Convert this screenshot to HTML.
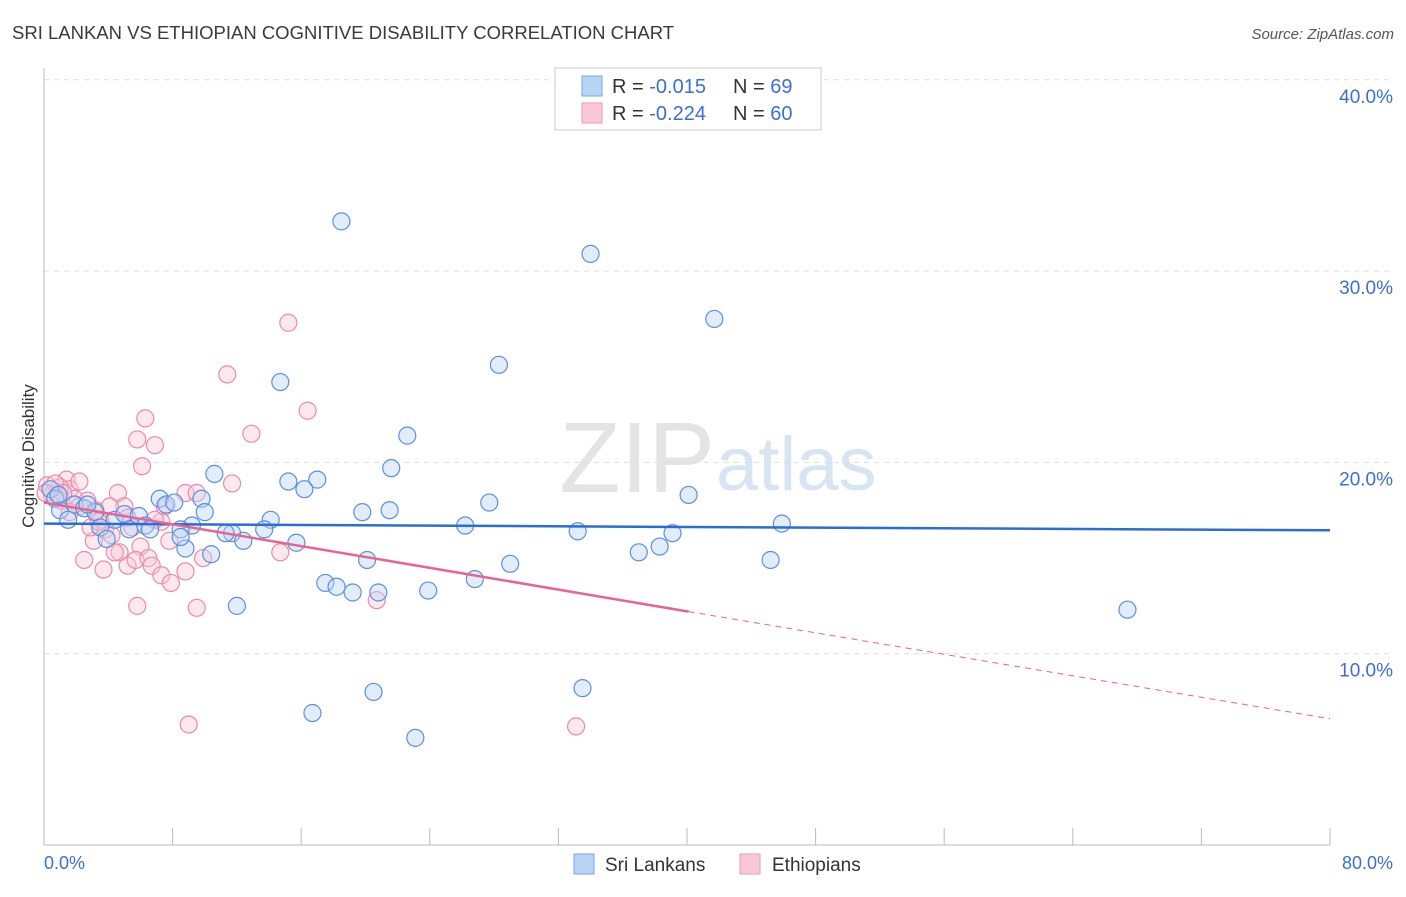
<!DOCTYPE html>
<html><head><meta charset="utf-8"><style>
body{margin:0;background:#fff;font-family:"Liberation Sans",sans-serif;}
svg text{font-family:"Liberation Sans",sans-serif;}
</style></head><body>
<svg id="chart" width="1406" height="892">
<text x="12" y="39" font-size="18.5" fill="#3a3a3a">SRI LANKAN VS ETHIOPIAN COGNITIVE DISABILITY CORRELATION CHART</text>
<text x="1394" y="39" font-size="15" fill="#555" font-style="italic" text-anchor="end">Source: ZipAtlas.com</text>
<text x="715" y="492" font-size="100" fill="#e4e4e4" font-family="Liberation Serif" text-anchor="end">ZIP</text>
<text x="716" y="490" font-size="76" fill="#d6e4f4">atlas</text>
<g id="grid"></g>
<line x1="44" y1="68" x2="44" y2="845" stroke="#bbb"/>
<line x1="44" y1="845" x2="1330" y2="845" stroke="#bbb"/>
<text x="34" y="456" font-size="17" fill="#333" text-anchor="middle" transform="rotate(-90 34 456)">Cognitive Disability</text>
<text x="44" y="869" font-size="18" fill="#3b6fd4">0.0%</text>
<text x="1393" y="869" font-size="18" fill="#3b6fd4" text-anchor="end">80.0%</text>
<g id="pts"></g>
<g id="lines"></g>
<g>
<rect x="555" y="68" width="266" height="62" fill="#fff" stroke="#ccc"/>
<rect x="582" y="76" width="20" height="20" fill="#b9d3f5" stroke="#7aa5e6"/>
<text x="612" y="93" font-size="20" fill="#333">R = <tspan fill="#3b6fd4">-0.015</tspan><tspan x="733">N = </tspan><tspan fill="#3b6fd4">69</tspan></text>
<rect x="582" y="103" width="20" height="20" fill="#fbc8d7" stroke="#ee9ab3"/>
<text x="612" y="120" font-size="20" fill="#333">R = <tspan fill="#3b6fd4">-0.224</tspan><tspan x="733">N = </tspan><tspan fill="#3b6fd4">60</tspan></text>
</g>
<g>
<rect x="574" y="854" width="20" height="20" fill="#b9d3f5" stroke="#7aa5e6"/>
<text x="605" y="871" font-size="19" fill="#333">Sri Lankans</text>
<rect x="740" y="854" width="20" height="20" fill="#fbc8d7" stroke="#ee9ab3"/>
<text x="772" y="871" font-size="19" fill="#333">Ethiopians</text>
</g>
</svg>
<script>
const yTicks=[10,20,30,40];
const yTickLabels=["10.0%","20.0%","30.0%","40.0%"];
const xTicks=[0,8,16,24,32,40,48,56,64,72,80];
const sriX=[18.5,34,41.7,28.3,14.7,22.6,21.6,10.6,17,15.2,16.2,27.7,40.1,7.2,9.8,7.6,19.8,21.5,10,14.1,26.2,45.9,33.2,39.1,9.2,11.7,11.3,13.7,12.4,15.7,38.3,37,8.8,10.4,20.1,29,45.2,17.5,18.2,26.8,19.2,20.8,23.9,12,67.4,20.5,33.5,16.7,23.1,0.4,0.7,1,1.5,1.9,2.5,3.2,3.5,3.9,4.4,5,5.3,5.9,6.3,6.6,8.1,8.5,8.5,0.9,2.7];
const sriY=[32.6,30.9,27.5,25.1,24.2,21.4,19.7,19.4,19.1,19,18.6,17.9,18.3,18.1,18.1,17.8,17.4,17.5,17.4,17,16.7,16.8,16.4,16.3,16.7,16.3,16.3,16.5,15.9,15.8,15.6,15.3,15.5,15.2,14.9,14.7,14.9,13.7,13.5,13.9,13.2,13.2,13.3,12.5,12.3,8.0,8.2,6.9,5.6,18.6,18.1,17.5,17,17.8,17.6,17.4,16.6,16,17,17.3,16.5,17.2,16.7,16.5,17.9,16.5,16.1,18.3,17.8];
const ethX=[15.2,11.4,16.4,12.9,6.3,5.8,6.9,6.1,1.4,1.6,0.2,0.5,1,1.1,1.9,2.2,2.7,3.2,3.5,3.8,4.2,4.6,5,5.2,5.5,6,4.7,5.2,5.7,6.5,6.7,7.3,7.9,8.8,8.8,9.5,7.5,7.3,11.7,9.9,2.5,3.7,5.8,9.5,9,33.1,20.7,14.7,3.1,4.1,1.6,2.9,6.9,2.2,0.7,1.2,3.4,4.4,7.8,0.1];
const ethY=[27.3,24.6,22.7,21.5,22.3,21.2,20.9,19.8,19.1,18.6,18.8,18.3,18.7,18,18.1,17.7,18,17.5,17,16.5,16.2,18.4,17.7,17.1,16.6,15.6,15.3,14.6,14.9,15,14.6,14.1,13.7,14.3,18.4,18.4,17.7,16.9,18.9,15,14.9,14.4,12.5,12.4,6.3,6.2,12.8,15.3,15.9,17.7,17.4,16.6,17,19,18.9,18.4,16.9,15.3,15.9,18.4];
const blueLine=[16.8,16.45];
const pinkLine=[17.9,12.2,6.6];
const NS="http://www.w3.org/2000/svg";
const X0=44,X1=1330,Y0=845,PPY=19.13;
const sx=v=>X0+(v/80)*(X1-X0);
const sy=v=>Y0-v*PPY;
const grid=document.getElementById('grid');
yTicks.forEach((t,i)=>{
  const l=document.createElementNS(NS,'line');
  
  
  l.setAttribute('x1',44);l.setAttribute('x2',1393);l.setAttribute('y1',sy(t));l.setAttribute('y2',sy(t));
  l.setAttribute('stroke','#ddd');l.setAttribute('stroke-dasharray','5,5');
  grid.appendChild(l);
  const tx=document.createElementNS(NS,'text');
  
  
  tx.setAttribute('x',1393);tx.setAttribute('y',sy(t)+23);tx.setAttribute('text-anchor','end');
  tx.setAttribute('font-size','19');tx.setAttribute('fill','#3b6fd4');tx.textContent=yTickLabels[i];
  grid.appendChild(tx);
});
xTicks.forEach(t=>{
  const l=document.createElementNS(NS,'line');
  
  
  l.setAttribute('x1',sx(t));l.setAttribute('x2',sx(t));l.setAttribute('y1',828);l.setAttribute('y2',845);
  l.setAttribute('stroke','#bbb');
  grid.appendChild(l);
});
const pts=document.getElementById('pts');
function dot(x,y,fill,stroke,name){
  const c=document.createElementNS(NS,'circle');
  
  
  c.setAttribute('cx',sx(x));c.setAttribute('cy',sy(y));c.setAttribute('r',8.5);
  c.setAttribute('fill',fill);c.setAttribute('fill-opacity','0.42');c.setAttribute('stroke',stroke);c.setAttribute('stroke-width','1.2');
  pts.appendChild(c);
}
ethX.forEach((x,i)=>dot(x,ethY[i],'#fbc8d7','#ec8aa8','ethiopian-point'));
sriX.forEach((x,i)=>dot(x,sriY[i],'#b9d3f5','#5b8fe0','sri-lankan-point'));
const lines=document.getElementById('lines');
function ln(x1,y1,x2,y2,col,w,dash,name){
  const l=document.createElementNS(NS,'line');
  
  
  l.setAttribute('x1',sx(x1));l.setAttribute('y1',sy(y1));l.setAttribute('x2',sx(x2));l.setAttribute('y2',sy(y2));
  l.setAttribute('stroke',col);l.setAttribute('stroke-width',w);if(dash)l.setAttribute('stroke-dasharray',dash);
  lines.appendChild(l);
}
ln(0,blueLine[0],80,blueLine[1],'#2a6dd6',2.5,null,'sri-lankan-trendline');
ln(0,pinkLine[0],40.1,pinkLine[1],'#e8648e',2.5,null,'ethiopian-trendline');
ln(40.1,pinkLine[1],80,pinkLine[2],'#e8648e',1,'6,5','ethiopian-trendline-extension');
</script>
</body></html>
